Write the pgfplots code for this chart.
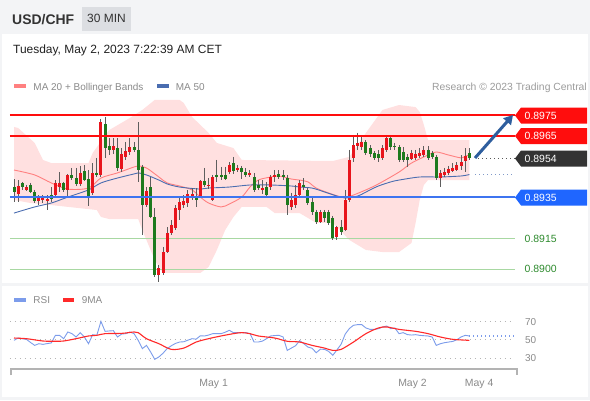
\documentclass[border=0pt]{standalone}
\usepackage{fontspec}
\setmainfont{Liberation Sans}
\usepackage{pgfplots}
\usepackage{pgfplotstable}
\usetikzlibrary{arrows.meta}
\pgfplotsset{compat=1.18}

\definecolor{hdrbg}{HTML}{F3F4F6}
\definecolor{tagbg}{HTML}{DCDEE2}
\definecolor{txt}{HTML}{333333}
\definecolor{legtxt}{HTML}{8A8A8A}
\definecolor{band}{HTML}{FFE0E0}
\definecolor{ma20}{HTML}{FF8080}
\definecolor{ma50}{HTML}{4A6DB0}
\definecolor{cred}{HTML}{E8141C}
\definecolor{cgreen}{HTML}{1E7A1E}
\definecolor{wick}{HTML}{5E5E5E}
\definecolor{lvred}{HTML}{FF0D0D}
\definecolor{lvblue}{HTML}{3D74F0}
\definecolor{lvgreen}{HTML}{A8D8A2}
\definecolor{lbgreen}{HTML}{2E8B2E}
\definecolor{tagblue}{HTML}{1F66FF}
\definecolor{tagdark}{HTML}{333333}
\definecolor{arrowblue}{HTML}{2E5E9E}
\definecolor{rsiblue}{HTML}{7C9CEB}
\definecolor{rsired}{HTML}{FF2A2A}
\definecolor{dotgray}{HTML}{B5B5B5}
\definecolor{axgray}{HTML}{B3B3B3}

% rising candles (drawn red)
\pgfplotstableread{
i o h l c
1 0.89367 0.89435 0.89328 0.89406
3 0.89387 0.89411 0.89382 0.89401
6 0.89333 0.89362 0.89313 0.89352
7 0.89338 0.89362 0.89323 0.89348
8 0.89333 0.89362 0.89289 0.89343
10 0.89362 0.89435 0.89352 0.89421
11 0.89401 0.89474 0.89377 0.89421
13 0.89387 0.89465 0.89352 0.89460
16 0.89416 0.89504 0.89406 0.89470
19 0.89372 0.89518 0.89362 0.89470
21 0.89460 0.89733 0.89450 0.89718
24 0.89582 0.89640 0.89562 0.89601
26 0.89489 0.89591 0.89474 0.89562
27 0.89548 0.89621 0.89533 0.89577
28 0.89572 0.89640 0.89557 0.89596
32 0.89313 0.89401 0.89304 0.89382
35 0.88972 0.89021 0.88938 0.89006
36 0.88982 0.89109 0.88972 0.89084
37 0.89084 0.89206 0.89080 0.89177
38 0.89177 0.89240 0.89167 0.89216
39 0.89201 0.89313 0.89191 0.89299
40 0.89289 0.89348 0.89240 0.89328
41 0.89313 0.89362 0.89299 0.89333
42 0.89323 0.89387 0.89304 0.89367
43 0.89348 0.89396 0.89338 0.89367
45 0.89352 0.89435 0.89348 0.89431
47 0.89406 0.89445 0.89391 0.89411
48 0.89338 0.89460 0.89333 0.89450
52 0.89474 0.89523 0.89465 0.89509
54 0.89484 0.89509 0.89474 0.89494
57 0.89460 0.89484 0.89450 0.89470
60 0.89387 0.89435 0.89367 0.89396
62 0.89401 0.89460 0.89387 0.89450
63 0.89450 0.89484 0.89426 0.89460
67 0.89304 0.89372 0.89289 0.89338
68 0.89313 0.89411 0.89299 0.89362
69 0.89362 0.89435 0.89352 0.89421
74 0.89230 0.89289 0.89226 0.89279
78 0.89157 0.89211 0.89143 0.89206
80 0.89191 0.89387 0.89187 0.89338
81 0.89338 0.89582 0.89328 0.89533
82 0.89543 0.89655 0.89523 0.89606
83 0.89601 0.89665 0.89582 0.89616
84 0.89596 0.89645 0.89582 0.89621
89 0.89543 0.89606 0.89533 0.89591
90 0.89582 0.89655 0.89572 0.89640
96 0.89538 0.89582 0.89533 0.89567
97 0.89543 0.89582 0.89533 0.89562
98 0.89552 0.89591 0.89543 0.89567
99 0.89557 0.89601 0.89548 0.89582
103 0.89445 0.89484 0.89401 0.89470
104 0.89460 0.89494 0.89450 0.89474
105 0.89470 0.89504 0.89460 0.89489
106 0.89479 0.89518 0.89474 0.89494
107 0.89484 0.89523 0.89479 0.89509
108 0.89504 0.89557 0.89484 0.89523
109 0.89528 0.89591 0.89474 0.89552
}\upc

% falling candles (drawn green)
\pgfplotstableread{
i o h l c
0 0.89401 0.89440 0.89328 0.89377
2 0.89421 0.89426 0.89387 0.89401
4 0.89411 0.89421 0.89372 0.89377
5 0.89377 0.89387 0.89323 0.89333
9 0.89362 0.89401 0.89328 0.89343
12 0.89421 0.89426 0.89377 0.89387
14 0.89460 0.89494 0.89435 0.89445
15 0.89445 0.89494 0.89406 0.89416
17 0.89479 0.89509 0.89431 0.89435
18 0.89440 0.89484 0.89309 0.89357
20 0.89470 0.89543 0.89450 0.89460
22 0.89709 0.89743 0.89543 0.89591
23 0.89601 0.89640 0.89557 0.89582
25 0.89591 0.89640 0.89479 0.89494
29 0.89596 0.89621 0.89572 0.89582
30 0.89582 0.89718 0.89426 0.89484
31 0.89499 0.89509 0.89167 0.89313
33 0.89401 0.89450 0.89250 0.89255
34 0.89255 0.89299 0.88962 0.88972
44 0.89357 0.89396 0.89304 0.89338
46 0.89431 0.89494 0.89401 0.89411
49 0.89460 0.89533 0.89426 0.89450
50 0.89460 0.89499 0.89435 0.89450
51 0.89460 0.89499 0.89435 0.89440
53 0.89518 0.89548 0.89465 0.89479
55 0.89494 0.89504 0.89440 0.89474
56 0.89474 0.89494 0.89450 0.89460
58 0.89450 0.89470 0.89377 0.89387
59 0.89411 0.89435 0.89387 0.89396
61 0.89401 0.89426 0.89357 0.89362
64 0.89465 0.89484 0.89440 0.89450
65 0.89460 0.89484 0.89435 0.89450
66 0.89445 0.89460 0.89265 0.89313
70 0.89411 0.89445 0.89387 0.89401
71 0.89387 0.89396 0.89313 0.89323
72 0.89328 0.89348 0.89265 0.89279
73 0.89279 0.89289 0.89221 0.89230
75 0.89279 0.89289 0.89230 0.89250
76 0.89279 0.89289 0.89216 0.89226
77 0.89250 0.89260 0.89143 0.89152
79 0.89206 0.89240 0.89167 0.89182
85 0.89621 0.89630 0.89557 0.89567
86 0.89591 0.89606 0.89548 0.89562
87 0.89567 0.89577 0.89533 0.89543
88 0.89562 0.89582 0.89523 0.89543
91 0.89640 0.89655 0.89582 0.89596
92 0.89601 0.89616 0.89582 0.89596
93 0.89596 0.89606 0.89523 0.89533
94 0.89572 0.89596 0.89523 0.89533
95 0.89548 0.89562 0.89499 0.89533
100 0.89582 0.89601 0.89533 0.89543
101 0.89567 0.89577 0.89538 0.89548
102 0.89548 0.89557 0.89435 0.89445
110 0.89567 0.89591 0.89533 0.89543
}\dnc

% Bollinger band outline: upper band left to right, then lower band right to left
\pgfplotstableread{
i v
0 0.89694
1 0.89689
5 0.89616
7 0.89533
9 0.89518
18 0.89518
19 0.89567
23 0.89679
28 0.89738
31 0.89777
34 0.89826
40 0.89826
41 0.89811
43 0.89743
47 0.89665
49 0.89616
53 0.89591
55 0.89533
77 0.89528
81 0.89548
85 0.89665
89 0.89777
93 0.89801
97 0.89791
98 0.89767
99 0.89704
100 0.89630
110 0.89630
110 0.89435
100 0.89435
99 0.89411
98 0.89338
97 0.89226
96 0.89128
93 0.89084
89 0.89084
85 0.89094
81 0.89143
77 0.89226
73 0.89226
69 0.89274
63 0.89274
61 0.89304
55 0.89304
53 0.89255
51 0.89191
49 0.89094
47 0.89011
45 0.88982
36 0.88982
34 0.89045
31 0.89191
30 0.89245
23 0.89245
21 0.89255
20 0.89289
9 0.89313
4 0.89323
0 0.89338
}\bband

\pgfplotstableread{
i v
0 0.89484
5 0.89460
9 0.89421
13 0.89391
18 0.89396
21 0.89445
25 0.89470
29 0.89499
30 0.89504
32 0.89494
35 0.89450
37 0.89421
40 0.89406
43 0.89387
45 0.89352
47 0.89323
50 0.89304
52 0.89318
55 0.89352
57 0.89401
59 0.89435
62 0.89450
64 0.89455
67 0.89440
69 0.89435
71 0.89426
73 0.89396
76 0.89372
79 0.89352
80 0.89348
82 0.89362
85 0.89387
88 0.89416
93 0.89474
96 0.89518
100 0.89557
102 0.89572
105 0.89557
108 0.89543
109 0.89552
110 0.89557
}\maA

\pgfplotstableread{
i v
0 0.89274
5 0.89304
9 0.89323
13 0.89352
18 0.89387
21 0.89421
25 0.89445
29 0.89465
30 0.89470
32 0.89460
35 0.89435
37 0.89416
40 0.89401
45 0.89391
47 0.89396
52 0.89401
57 0.89411
62 0.89411
67 0.89406
69 0.89401
72 0.89396
75 0.89377
78 0.89357
80 0.89348
83 0.89357
86 0.89387
88 0.89406
91 0.89426
93 0.89435
98 0.89450
103 0.89450
108 0.89455
110 0.89462
}\maB

\pgfplotstableread{
i v
0 49.3
1 51.8
2 51.0
3 50.4
4 47.0
5 43.9
6 45.7
7 45.0
8 45.8
9 46.5
10 54.7
11 54.7
12 51.1
13 58.3
14 56.5
15 52.9
16 57.6
17 52.9
18 45.7
19 55.4
20 54.7
21 69.7
22 59.0
23 59.4
24 59.7
25 52.9
26 56.1
27 56.5
28 58.3
29 56.5
30 49.3
31 40.4
32 43.9
33 36.8
34 28.9
35 31.5
36 35.5
37 40.5
38 43.5
39 46.0
40 47.5
41 47.8
42 49.5
43 51.1
44 50.6
45 54.2
46 54.0
47 55.0
48 56.5
49 56.5
50 56.5
51 58.0
52 60.1
53 57.6
54 57.6
55 57.6
56 57.6
57 56.5
58 47.5
59 47.5
60 48.5
61 51.1
62 54.0
63 54.5
64 54.7
65 52.9
66 38.5
67 41.0
68 43.5
69 49.0
70 45.7
71 42.1
72 40.8
73 36.0
74 39.8
75 39.6
76 37.5
77 33.2
78 39.0
79 45.0
80 56.0
81 62.0
82 65.5
83 66.2
84 66.2
85 62.6
86 61.1
87 61.1
88 61.8
89 63.5
90 64.7
91 61.9
92 62.6
93 56.5
94 57.6
95 55.5
96 55.0
97 55.4
98 54.7
99 54.3
100 54.0
101 52.9
102 43.9
103 45.7
104 46.8
105 47.5
106 48.2
107 50.0
108 53.0
109 54.7
110 54.0
}\rsi

\pgfplotstableread{
i v
0 51.8
3 51.1
7 48.6
10 48.3
12 48.6
15 51.1
18 54.0
20 54.7
22 56.5
26 56.8
29 58.3
30 57.6
32 51.1
35 45.7
38 39.6
41 41.0
44 47.5
47 51.1
50 54.0
53 56.5
55 57.6
57 56.5
59 54.0
63 51.8
66 48.3
69 47.5
72 43.9
75 41.0
77 38.5
79 39.6
82 47.5
85 56.5
88 62.6
90 63.7
93 61.1
97 59.0
100 56.5
103 52.9
106 50.4
110 49.3
}\rsima

\begin{document}
\begin{tikzpicture}[x=1bp,y=1bp]
\fill[hdrbg] (0,0) rectangle (590,400);
\fill[white] (2,117) rectangle (588,366);
\fill[white] (2,3) rectangle (588,114);

% ---------- main price panel ----------
\begin{axis}[at={(0bp,117bp)}, anchor=south west, scale only axis,
  width=590bp, height=213bp, xmin=-3.3816, xmax=139.13,
  ymin=0.889329, ymax=0.899719, hide axis]
\addplot[fill=band, draw=none, forget plot] table[x=i,y=v] \bband -- cycle;

\addplot[lvgreen, line width=1.2bp] coordinates {(-0.97,0.8915) (121.0,0.8915)};
\addplot[lvgreen, line width=1.2bp] coordinates {(-0.97,0.8900) (121.0,0.8900)};

\addplot[ma20, line width=0.9bp, smooth] table[x=i,y=v] \maA;
\addplot[ma50, line width=0.9bp, smooth] table[x=i,y=v] \maB;

% wicks
\addplot[draw=none, forget plot, error bars/.cd, y dir=minus, y explicit,
  error mark=none, error bar style={draw=wick, line width=1bp}]
  table[x=i, y=h, y error minus expr={\thisrow{h}-\thisrow{l}}] \upc;
\addplot[draw=none, forget plot, error bars/.cd, y dir=minus, y explicit,
  error mark=none, error bar style={draw=wick, line width=1bp}]
  table[x=i, y=h, y error minus expr={\thisrow{h}-\thisrow{l}}] \dnc;
% bodies
\addplot[draw=none, forget plot, error bars/.cd, y dir=minus, y explicit,
  error mark=none, error bar style={draw=cred, line width=3bp}]
  table[x=i, y=c, y error minus expr={\thisrow{c}-\thisrow{o}}] \upc;
\addplot[draw=none, forget plot, error bars/.cd, y dir=minus, y explicit,
  error mark=none, error bar style={draw=cgreen, line width=3bp}]
  table[x=i, y=o, y error minus expr={\thisrow{o}-\thisrow{c}}] \dnc;

\addplot[lvred, line width=2bp] coordinates {(-0.97,0.8975) (121.0,0.8975)};
\addplot[lvred, line width=2bp] coordinates {(-0.97,0.8965) (121.0,0.8965)};
\addplot[lvblue, line width=2bp] coordinates {(-0.97,0.8935) (121.0,0.8935)};
\addplot[black!65, line width=1bp, dash pattern=on 1bp off 3bp] coordinates {(112.1,0.8954) (121.0,0.8954)};
\addplot[ma50!70, line width=1bp, dash pattern=on 1bp off 3bp] coordinates {(111.4,0.89462) (121.0,0.89462)};
\end{axis}

% ---------- RSI panel ----------
\begin{axis}[at={(0bp,31bp)}, anchor=south west, scale only axis,
  width=590bp, height=64bp, xmin=-3.3816, xmax=139.13,
  ymin=18.5, ymax=87.3, hide axis]
\addplot[dotgray, line width=1.1bp, dash pattern=on 1bp off 4bp] coordinates {(-0.97,70) (121.0,70)};
\addplot[dotgray, line width=1.1bp, dash pattern=on 1bp off 4bp] coordinates {(-0.97,50) (121.0,50)};
\addplot[dotgray, line width=1.1bp, dash pattern=on 1bp off 4bp] coordinates {(-0.97,30) (121.0,30)};
\addplot[rsiblue, line width=0.9bp] table[x=i,y=v] \rsi;
\addplot[rsiblue, line width=1.1bp, dash pattern=on 1bp off 3bp] coordinates {(110,54) (121.0,54)};
\addplot[rsired, line width=1.1bp, smooth] table[x=i,y=v] \rsima;
\end{axis}

% ---------- header ----------
\node[anchor=base west, inner sep=0, text=txt, font=\fontsize{14}{16}\selectfont\bfseries] at (12,376) {USD/CHF};
\fill[tagbg] (82,369) rectangle (131,393);
\node[anchor=base, inner sep=0, text=txt, font=\fontsize{12}{14}\selectfont] at (106.5,377.3) {30 MIN};
\node[anchor=base west, inner sep=0, text=black!87, font=\fontsize{12}{14}\selectfont] at (13,347) {Tuesday, May 2, 2023 7:22:39 AM CET};

% legend main
\fill[ma20] (14,312) rectangle (26,316);
\node[anchor=base west, inner sep=0, text=legtxt, font=\fontsize{10}{12}\selectfont] at (33.3,310) {MA 20 + Bollinger Bands};
\fill[ma50] (157,312) rectangle (169,316);
\node[anchor=base west, inner sep=0, text=legtxt, font=\fontsize{10}{12}\selectfont] at (175.7,310) {MA 50};
\node[anchor=base east, inner sep=0, text=legtxt!85, font=\fontsize{10.4}{12}\selectfont] at (587,310) {Research © 2023 Trading Central};

% price tags
\fill[lvred] (515,284.5) -- (521,292.5) -- (587,292.5) -- (587,276.5) -- (521,276.5) -- cycle;
\node[anchor=west, inner sep=0, text=white, font=\fontsize{10.5}{12}\selectfont] at (524.5,284.5) {0.8975};
\fill[lvred] (515,264) -- (521,272) -- (587,272) -- (587,256) -- (521,256) -- cycle;
\node[anchor=west, inner sep=0, text=white, font=\fontsize{10.5}{12}\selectfont] at (524.5,264) {0.8965};
\fill[tagdark] (515,241.5) -- (521,249.5) -- (587,249.5) -- (587,233.5) -- (521,233.5) -- cycle;
\node[anchor=west, inner sep=0, text=white, font=\fontsize{10.5}{12}\selectfont] at (524.5,241.5) {0.8954};
\fill[tagblue] (515,202.5) -- (521,210.5) -- (587,210.5) -- (587,194.5) -- (521,194.5) -- cycle;
\node[anchor=west, inner sep=0, text=white, font=\fontsize{10.5}{12}\selectfont] at (524.5,202.5) {0.8935};
\node[anchor=west, inner sep=0, text=lbgreen, font=\fontsize{10.5}{12}\selectfont] at (524.5,161.5) {0.8915};
\node[anchor=west, inner sep=0, text=lbgreen, font=\fontsize{10.5}{12}\selectfont] at (524.5,131) {0.8900};

% forecast arrow
\draw[arrowblue, line width=3bp, -{Triangle[length=9bp,width=10bp]}] (475,242) -- (513,285);

% RSI legend and labels
\fill[rsiblue] (14,98.3) rectangle (26,102.3);
\node[anchor=base west, inner sep=0, text=legtxt, font=\fontsize{10}{12}\selectfont] at (33.3,96.7) {RSI};
\fill[rsired] (62.7,98.3) rectangle (74,102.3);
\node[anchor=base west, inner sep=0, text=legtxt, font=\fontsize{10}{12}\selectfont] at (81.7,96.7) {9MA};
\node[anchor=west, inner sep=0, text=legtxt, font=\fontsize{10}{12}\selectfont] at (525,78.3) {70};
\node[anchor=west, inner sep=0, text=legtxt, font=\fontsize{10}{12}\selectfont] at (525,60) {50};
\node[anchor=west, inner sep=0, text=legtxt, font=\fontsize{10}{12}\selectfont] at (525,42) {30};

% time axis
\draw[axgray, line width=2bp] (11,25) -- (11,31) -- (516.5,31) -- (516.5,25);
\node[anchor=base, inner sep=0, text=legtxt, font=\fontsize{10.5}{12}\selectfont] at (213.7,13.3) {May 1};
\node[anchor=base, inner sep=0, text=legtxt, font=\fontsize{10.5}{12}\selectfont] at (412.5,13.3) {May 2};
\node[anchor=base, inner sep=0, text=legtxt, font=\fontsize{10.5}{12}\selectfont] at (479.2,13.3) {May 4};
\end{tikzpicture}
\end{document}
